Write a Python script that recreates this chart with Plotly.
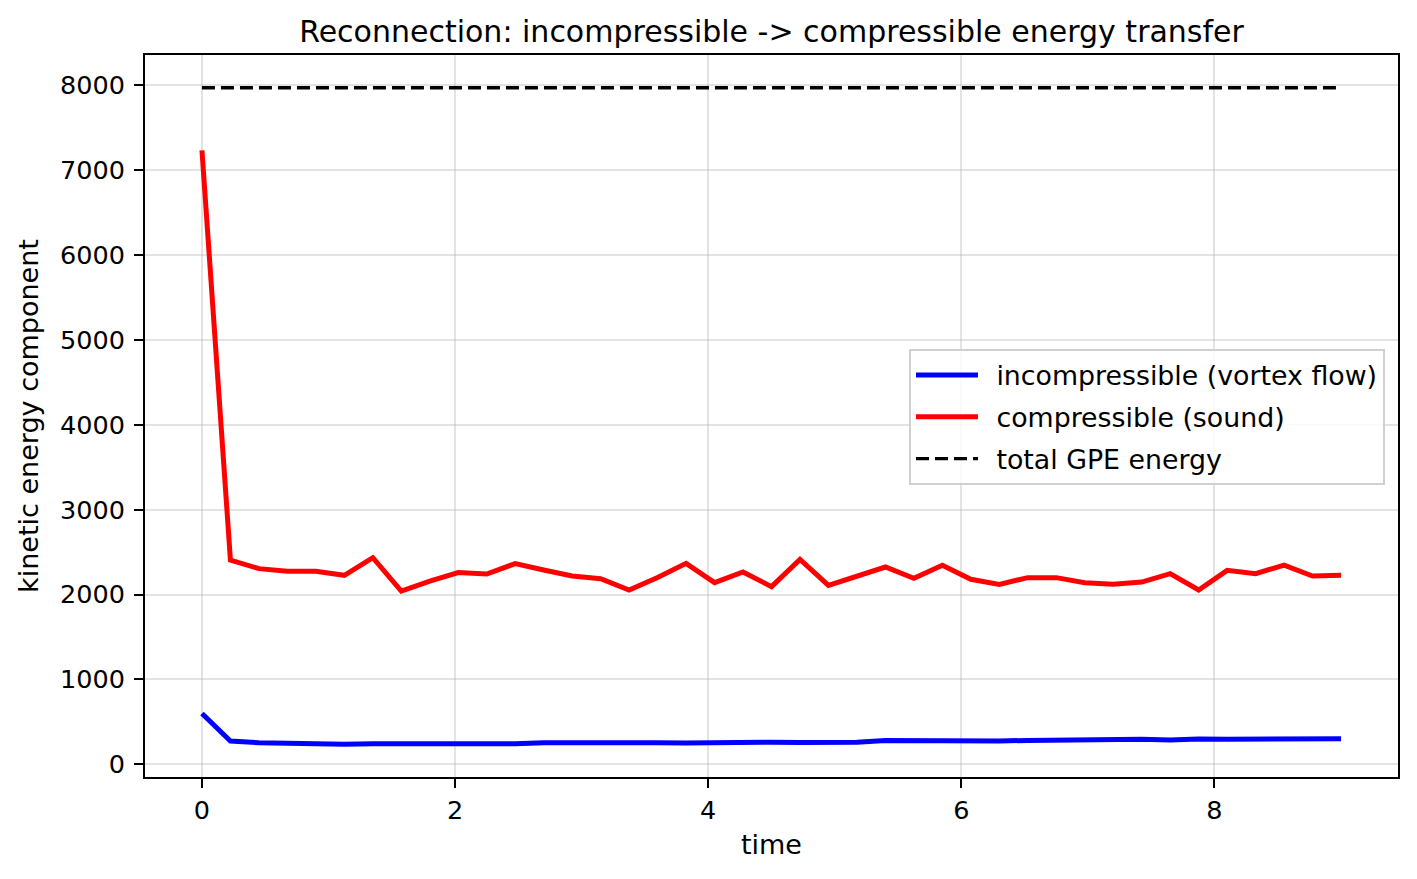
import numpy as np
import plotly.graph_objects as go

time = [round(0.225 * i, 4) for i in range(41)]

compressible = [7230, 2406, 2305, 2273, 2273, 2226, 2434, 2040, 2159, 2258,
                2242, 2364, 2289, 2218, 2187, 2053, 2200, 2367, 2140, 2265,
                2093, 2414, 2108, 2218, 2324, 2191, 2344, 2179, 2120, 2199,
                2199, 2140, 2120, 2147, 2246, 2053, 2285, 2246, 2347, 2218,
                2226]

incompressible = [600, 275, 255, 245, 240, 238, 243, 242, 240, 241,
                  240, 242, 256, 252, 250, 255, 254, 252, 258, 266,
                  262, 259, 257, 262, 282, 278, 272, 272, 276, 282,
                  288, 285, 298, 296, 286, 298, 295, 296, 300, 300,
                  302]

total_energy = [7966] * len(time)

FONT = "DejaVu Sans"
TICK_FS = 25.5
LAB_FS = 27
LEG_FS = 26.8
SP = "\u2002"

fig = go.Figure()
fig.add_trace(go.Scatter(x=time, y=incompressible, mode="lines",
                         name=SP + "incompressible (vortex flow)", legendgroup="a",
                         line=dict(color="#0000ff", width=5)))
fig.add_trace(go.Scatter(x=time, y=compressible, mode="lines",
                         name=SP + "compressible (sound)", legendgroup="b",
                         line=dict(color="#ff0000", width=5)))
fig.add_trace(go.Scatter(x=time, y=total_energy, mode="lines",
                         name=SP + "total GPE energy", legendgroup="c",
                         line=dict(color="black", width=3.4, dash="13px,6px")))

allv = incompressible + compressible + total_energy
ymin, ymax = min(allv), max(allv)
yr = ymax - ymin
xr = max(time) - min(time)

fig.update_layout(
    width=1417, height=879,
    paper_bgcolor="white", plot_bgcolor="white",
    margin=dict(l=145, r=19, t=55, b=102),
    font=dict(family=FONT, size=TICK_FS, color="black"),
    title=dict(text="Reconnection: incompressible -> compressible energy transfer",
               x=(145 + 1398) / 2 / 1417, xanchor="center",
               y=1 - 31 / 879, yanchor="middle",
               font=dict(family=FONT, size=30, color="black")),
    showlegend=True,
    legend=dict(x=(1385 - 145) / 1253, xanchor="right",
                y=(777 - 349) / 722, yanchor="top",
                bgcolor="rgba(255,255,255,0.8)",
                bordercolor="#d0d0d0", borderwidth=2,
                font=dict(family=FONT, size=LEG_FS, color="black"),
                itemwidth=62, tracegroupgap=4),
)
fig.update_xaxes(
    range=[min(time) - 0.05 * xr, max(time) + 0.05 * xr],
    tickvals=[0, 2, 4, 6, 8], ticks="outside", ticklen=9, tickwidth=2,
    tickcolor="black", showline=True, linecolor="black", linewidth=2,
    mirror=True, showgrid=True, gridcolor="rgba(176,176,176,0.35)", gridwidth=1.5,
    zeroline=False,
    title=dict(text="time", standoff=12, font=dict(family=FONT, size=LAB_FS, color="black")),
)
fig.update_yaxes(
    range=[ymin - 0.05 * yr, ymax + 0.05 * yr],
    tickvals=[0, 1000, 2000, 3000, 4000, 5000, 6000, 7000, 8000],
    ticks="outside", ticklen=9, tickwidth=2, ticklabelstandoff=4,
    tickcolor="black", showline=True, linecolor="black", linewidth=2,
    mirror=True, showgrid=True, gridcolor="rgba(176,176,176,0.35)", gridwidth=1.5,
    zeroline=False,
    title=dict(text="kinetic energy component", standoff=14,
               font=dict(family=FONT, size=LAB_FS, color="black")),
)

fig.write_html("out.html")
